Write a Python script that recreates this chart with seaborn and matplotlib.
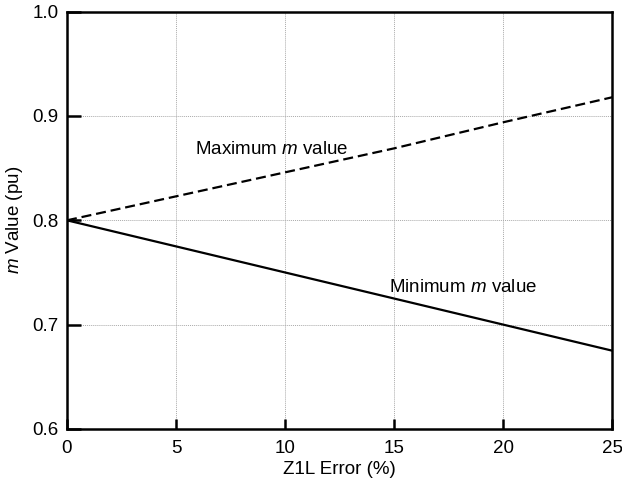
import matplotlib
matplotlib.use("Agg")
import matplotlib.pyplot as plt
import seaborn as sns
import pandas as pd

error_pct = [0, 5, 10, 15, 20, 25]
m_max = [0.800, 0.823, 0.846, 0.869, 0.894, 0.918]
m_min = [0.800, 0.775, 0.750, 0.725, 0.700, 0.675]
x_ticks = [0, 5, 10, 15, 20, 25]
y_ticks = [0.6, 0.7, 0.8, 0.9, 1.0]

sns.set_style("white")
plt.rcParams['font.family'] = ['Liberation Sans', 'DejaVu Sans']
plt.rcParams['mathtext.fontset'] = 'custom'
plt.rcParams['mathtext.it'] = 'Liberation Sans:italic'
plt.rcParams['mathtext.rm'] = 'Liberation Sans'
plt.rcParams['text.color'] = 'black'
plt.rcParams['axes.labelcolor'] = 'black'

FS = 13.5

fig = plt.figure(figsize=(6.22, 4.87), dpi=100)
ax = fig.add_axes([0.1077, 0.1191, 0.877, 0.857])

df = pd.DataFrame({"x": error_pct, "max": m_max, "min": m_min})
sns.lineplot(data=df, x="x", y="max", ax=ax, color="black", lw=1.6,
             linestyle=(0, (4.5, 2.2)))
sns.lineplot(data=df, x="x", y="min", ax=ax, color="black", lw=1.6)

ax.set_xlim(0, 25)
ax.set_ylim(0.6, 1.0)
ax.set_xticks(x_ticks)
ax.set_yticks(y_ticks)
ax.set_xticklabels([str(t) for t in x_ticks])
ax.set_yticklabels([f"{t:.1f}" for t in y_ticks])
ax.grid(True, color="#aaaaaa", linestyle=(0, (1, 1)), linewidth=0.7)
ax.set_axisbelow(True)
for s in ax.spines.values():
    s.set_visible(True)
    s.set_color("black")
    s.set_linewidth(1.8)
ax.tick_params(axis="y", left=True, direction="in", length=10, width=1.8,
               labelsize=FS, pad=6, colors="black")
ax.tick_params(axis="x", bottom=True, direction="in", length=7, width=1.8,
               labelsize=FS, pad=8, colors="black")
ax.set_xlabel("Z1L Error (%)", fontsize=FS, labelpad=3)
ax.set_ylabel(r"$m$ Value (pu)", fontsize=FS, labelpad=5)

ax.text(5.85, 0.868, r"Maximum $m$ value", fontsize=FS, va="center", ha="left")
ax.text(14.75, 0.7356, r"Minimum $m$ value", fontsize=FS, va="center", ha="left")

fig.savefig("out.png", dpi=100)
